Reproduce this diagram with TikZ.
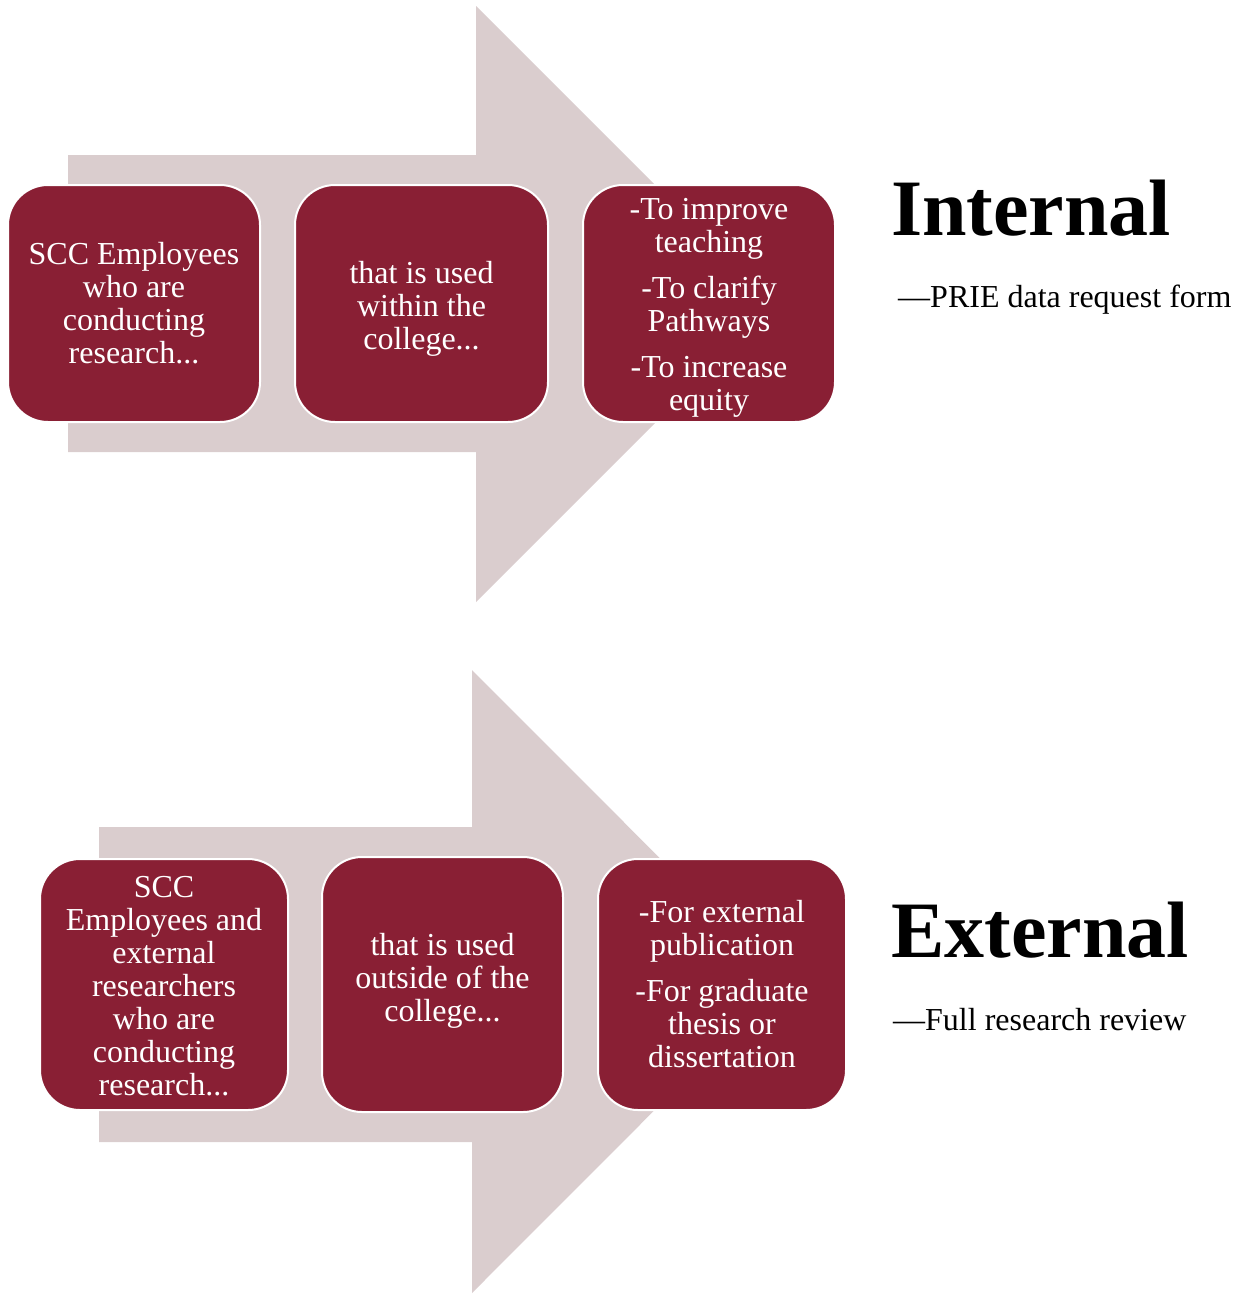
\documentclass[tikz,border=0pt]{standalone}
\usepackage{fontspec}
\setmainfont{Liberation Serif}
\definecolor{boxred}{RGB}{137,31,52}
\definecolor{arrowgray}{RGB}{218,205,206}
\tikzset{
  bigarrow/.style={fill=arrowgray, draw=none},
  stepbox/.style={rectangle, rounded corners=40pt, fill=boxred, draw=white, line width=2pt, inner sep=0pt},
  steptext/.style={text=white, align=center, inner sep=0pt, font=\fontsize{32}{33}\selectfont},
  headline/.style={anchor=base west, inner sep=0pt, font=\fontsize{80}{90}\selectfont\bfseries},
  subline/.style={anchor=base west, inner sep=0pt, font=\fontsize{32}{34}\selectfont},
}
\begin{document}
\begin{tikzpicture}[x=1pt, y=-1pt]
\useasboundingbox (0,0) rectangle (1242,1294);
% upper arrow
\fill[bigarrow] (68,155) -- (476,155) -- (476,6) -- (774,304) -- (476,602) -- (476,452) -- (68,452) -- cycle;
\node[stepbox, minimum width=252pt, minimum height=237pt] (i1) at (134,303.5) {};
\node[stepbox, minimum width=253pt, minimum height=237pt] (i2) at (421.5,303.5) {};
\node[stepbox, minimum width=252pt, minimum height=237pt] (i3) at (709,303.5) {};
\node[steptext] (i1t) at (i1.center) {SCC Employees\\who are\\conducting\\research...};
\node[steptext, yshift=-5pt] (i2t) at (i2.center) {that is used\\within the\\college...};
\node[steptext, yshift=-4pt] (i3t) at (i3.center) {-To improve\\teaching\\[13pt]-To clarify\\Pathways\\[13pt]-To increase\\equity};
\node[headline] (ih) at (891,235) {Internal};
\node[subline] (is) at (898,307) {---PRIE data request form};
% lower arrow
\fill[bigarrow] (99,827) -- (472,827) -- (472,670) -- (783,981.5) -- (472,1293) -- (472,1142) -- (99,1142) -- cycle;
\node[stepbox, minimum width=248pt, minimum height=251pt] (e1) at (164,984.5) {};
\node[stepbox, minimum width=241pt, minimum height=255pt] (e2) at (442.5,984.5) {};
\node[stepbox, minimum width=248pt, minimum height=251pt] (e3) at (722,984.5) {};
\node[steptext, yshift=-2pt] (e1t) at (e1.center) {SCC\\Employees and\\external\\researchers\\who are\\conducting\\research...};
\node[steptext, yshift=4pt] (e2t) at (e2.center) {that is used\\outside of the\\college...};
\node[steptext] (e3t) at (e3.center) {-For external\\publication\\[13pt]-For graduate\\thesis or\\dissertation};
\node[headline] (eh) at (891,957) {External};
\node[subline] (es) at (893,1030) {---Full research review};
\end{tikzpicture}
\end{document}
